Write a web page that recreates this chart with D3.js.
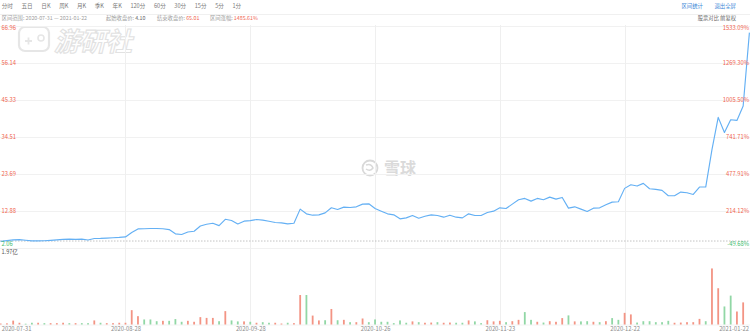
<!DOCTYPE html>
<html>
<head>
<meta charset="utf-8">
<script src="https://cdn.jsdelivr.net/npm/d3@7/dist/d3.min.js"></script>
<style>
  html, body { margin: 0; padding: 0; background: #fff; }
  svg { display: block; font-family: "Noto Sans CJK SC", "Noto Sans", sans-serif; }
</style>
</head>
<body>
<div id="chart"></div>
<script>
(function () {
  'use strict';

  // ── data (GME 日K, 2020-07-31 ~ 2021-01-22) ─────────────────────────
  var dates = [
    '2020-07-31',
    '2020-08-03', '2020-08-04', '2020-08-05', '2020-08-06', '2020-08-07', '2020-08-10', '2020-08-11',
    '2020-08-12', '2020-08-13', '2020-08-14', '2020-08-17', '2020-08-18', '2020-08-19', '2020-08-20',
    '2020-08-21', '2020-08-24', '2020-08-25', '2020-08-26', '2020-08-27', '2020-08-28', '2020-08-31',
    '2020-09-01', '2020-09-02', '2020-09-03', '2020-09-04', '2020-09-08', '2020-09-09', '2020-09-10',
    '2020-09-11', '2020-09-14', '2020-09-15', '2020-09-16', '2020-09-17', '2020-09-18', '2020-09-21',
    '2020-09-22', '2020-09-23', '2020-09-24', '2020-09-25', '2020-09-28', '2020-09-29', '2020-09-30',
    '2020-10-01', '2020-10-02', '2020-10-05', '2020-10-06', '2020-10-07', '2020-10-08', '2020-10-09',
    '2020-10-12', '2020-10-13', '2020-10-14', '2020-10-15', '2020-10-16', '2020-10-19', '2020-10-20',
    '2020-10-21', '2020-10-22', '2020-10-23', '2020-10-26', '2020-10-27', '2020-10-28', '2020-10-29',
    '2020-10-30', '2020-11-02', '2020-11-03', '2020-11-04', '2020-11-05', '2020-11-06', '2020-11-09',
    '2020-11-10', '2020-11-11', '2020-11-12', '2020-11-13', '2020-11-16', '2020-11-17', '2020-11-18',
    '2020-11-19', '2020-11-20', '2020-11-23', '2020-11-24', '2020-11-25', '2020-11-27', '2020-11-30',
    '2020-12-01', '2020-12-02', '2020-12-03', '2020-12-04', '2020-12-07', '2020-12-08', '2020-12-09',
    '2020-12-10', '2020-12-11', '2020-12-14', '2020-12-15', '2020-12-16', '2020-12-17', '2020-12-18',
    '2020-12-21', '2020-12-22', '2020-12-23', '2020-12-24', '2020-12-28', '2020-12-29', '2020-12-30',
    '2020-12-31', '2021-01-04', '2021-01-05', '2021-01-06', '2021-01-07', '2021-01-08', '2021-01-11',
    '2021-01-12', '2021-01-13', '2021-01-14', '2021-01-15', '2021-01-19', '2021-01-20', '2021-01-21',
    '2021-01-22'
  ];

  var closes = [
    4.01,
    4.20, 4.43, 4.52, 4.32, 4.15, 4.13, 4.18, 4.30, 4.45, 4.58, 4.65, 4.60, 4.66, 4.40,
    4.85, 4.87, 4.95, 5.05, 5.15, 5.30, 6.60,
    7.65, 7.70, 7.75, 7.75, 7.70, 7.45, 6.20, 6.00, 6.75, 6.95, 8.50, 9.00, 9.30, 8.60,
    10.45, 10.10, 9.10, 9.90, 10.05, 10.38, 10.19,
    9.89, 9.50, 9.40, 9.11, 9.30, 13.42, 12.05, 11.65, 11.75, 12.34, 13.81, 13.32, 14.00,
    13.91, 14.10, 14.88, 14.98, 13.61, 12.83, 12.05, 11.75, 10.58,
    10.87, 11.56, 10.77, 11.36, 11.75, 11.56, 11.07, 11.65, 11.07, 10.87, 12.05, 11.56,
    11.56, 12.44, 12.83, 13.81, 13.61, 14.88, 16.16, 16.55,
    15.77, 16.55, 16.16, 16.94, 16.35, 16.84, 13.71, 14.10, 13.42, 12.73, 13.71, 13.81,
    14.69, 15.47, 15.57, 19.49, 20.56, 20.17, 20.95, 19.39, 19.19, 18.90,
    17.33, 17.33, 18.41, 18.21, 17.72, 19.88, 19.88, 30.84, 40.24, 35.83, 39.55, 39.36, 43.57,
    65.01
  ];

  // 成交量（百万股）
  var volumes = [
    2.5,
    3, 10, 4.5, 2, 4.5, 4.5, 3.5, 3.5, 3.5, 4.5, 3.5, 3.5, 3.5, 3.5,
    10.5, 4.5, 3.5, 3.5, 4.5, 4.5, 37,
    21.5, 13, 13, 8.5, 9.5, 9.5, 14, 7, 9.5, 7, 19, 17, 17, 8.5,
    34.5, 10.5, 8, 8, 7, 4.5, 6,
    4.5, 4.5, 2.5, 4.5, 3.5, 76, 76, 23, 10.5, 11, 40, 11, 12,
    6, 6, 15.5, 6, 13, 7, 7, 3.5, 10.5,
    4.5, 8, 6, 4.5, 5, 6, 4.5, 5, 4.5, 4.5, 10.5, 8,
    3.5, 11, 8, 9.5, 6, 8.5, 12, 32,
    12, 7, 5, 8.5, 7, 16.5, 23.5, 8, 8, 8.5, 7, 6,
    8.5, 16.5, 12, 30, 26, 5, 8.5, 8.5, 6, 6,
    9.5, 4.5, 5, 6, 6, 14.5, 8.5, 144.5, 93.5, 46.5, 74.5, 33.5, 57,
    197.2
  ];

  // 1 = 收阳（红），0 = 收阴（绿）
  var volUp = [
    1,
    1, 1, 1, 0, 0, 1, 0, 1, 1, 1, 0, 1, 0, 0,
    1, 0, 1, 1, 1, 1, 1,
    1, 0, 0, 0, 1, 0, 0, 0, 1, 1, 1, 1, 1, 0,
    1, 0, 0, 1, 0, 1, 0,
    0, 1, 1, 0, 1, 1, 0, 1, 1, 0, 1, 0, 1,
    0, 1, 1, 0, 0, 0, 0, 0, 0,
    0, 1, 0, 1, 1, 0, 1, 1, 0, 0, 1, 0,
    0, 1, 1, 1, 0, 1, 1, 0,
    0, 1, 0, 1, 1, 1, 0, 1, 0, 0, 1, 0,
    1, 0, 0, 1, 1, 0, 0, 0, 0, 0,
    0, 1, 1, 1, 1, 1, 0, 1, 1, 0, 0, 1, 1,
    1
  ];

  var priceTickLabels = ['2.06', '12.88', '23.69', '34.51', '45.33', '56.14', '66.96'];
  var pctTickLabels = ['-49.68%', '214.12%', '477.91%', '741.71%', '1005.50%', '1269.30%', '1533.09%'];
  var dateTickIdx = [0, 20, 40, 60, 80, 100, 120];
  var periodTabs = ['分时', '五日', '日K', '周K', '月K', '季K', '年K', '120分', '60分', '30分', '15分', '5分', '1分'];
  var startClose = 4.10;
  var volMaxLabel = '1.97亿';

  // ── layout ─────────────────────────────────────────────────────────
  var W = 750, H = 335;
  var RED = '#f0654f', GREEN = '#3dbb6c';
  var svg = d3.select('#chart').append('svg').attr('width', W).attr('height', H);

  var x = d3.scaleLinear().domain([0, closes.length - 1]).range([0.7, 749.4]);
  var y = d3.scaleLinear().domain([+priceTickLabels[0], +priceTickLabels[priceTickLabels.length - 1]]).range([248, 26]);
  var yv = d3.scaleLinear().domain([0, d3.max(volumes)]).range([324.5, 248]);

  // watermarks (drawn as outlines so they stay behind everything)
  var wm = svg.append('g').attr('class', 'watermark');
  wm.append('rect').attr('x', 19).attr('y', 27).attr('width', 30).attr('height', 24).attr('rx', 6)
    .attr('fill', 'none').attr('stroke', '#e6e6e6').attr('stroke-width', 2.2);
  wm.append('path').attr('d', 'M25,41h7M28.5,37.5v7').attr('stroke', '#e6e6e6').attr('stroke-width', 1.8);
  wm.append('circle').attr('cx', 41).attr('cy', 38).attr('r', 3).attr('fill', 'none').attr('stroke', '#e6e6e6').attr('stroke-width', 1.6);
  wm.append('text').attr('x', 54).attr('y', 51).attr('font-size', 26).attr('font-weight', 'bold')
    .attr('font-style', 'italic').attr('fill', '#fff').attr('stroke', '#e2e2e2').attr('stroke-width', 1.1)
    .text('游研社');
  wm.append('circle').attr('cx', 370).attr('cy', 168).attr('r', 7.5).attr('fill', 'none')
    .attr('stroke', '#d9d9d9').attr('stroke-width', 1.8);
  wm.append('path').attr('d', 'M366,165 q5,-2 7,3 q-3,4 -7,1').attr('fill', 'none')
    .attr('stroke', '#d9d9d9').attr('stroke-width', 1.5);
  wm.append('text').attr('x', 384).attr('y', 168).attr('dy', '0.35em').attr('font-size', 16)
    .attr('font-weight', 'bold').attr('fill', '#dadada').text('雪球');

  // header row 1: period tabs
  var tabX = 1.7;
  periodTabs.forEach(function (t) {
    var node = svg.append('text').attr('x', tabX).attr('y', 6.5).attr('dy', '0.35em')
      .attr('font-size', 5.6).attr('fill', '#7a7a7a').text(t);
    tabX += node.node().getComputedTextLength() + 8.6;
  });
  [['区间统计', 703], ['退出全屏', 736]].forEach(function (d) {
    svg.append('text').attr('x', d[1]).attr('y', 6.5).attr('dy', '0.35em').attr('text-anchor', 'end')
      .attr('font-size', 5.4).attr('fill', '#3f8ad8').text(d[0]);
  });
  svg.append('line').attr('x1', 0).attr('x2', W).attr('y1', 14.5).attr('y2', 14.5)
    .attr('stroke', '#f0f0f0').attr('stroke-width', 1);

  // header row 2: interval stats
  var lastClose = closes[closes.length - 1];
  var stats = [
    { x: 1.7, label: '区间范围: ', value: dates[0] + ' — ' + dates[dates.length - 1], color: '#a0a0a0' },
    { x: 106, label: '起始收盘价: ', value: startClose.toFixed(2), color: '#666' },
    { x: 157, label: '结束收盘价: ', value: lastClose.toFixed(2), color: RED },
    { x: 210, label: '区间涨幅: ', value: ((lastClose / startClose - 1) * 100).toFixed(2) + '%', color: RED }
  ];
  stats.forEach(function (s) {
    var t = svg.append('text').attr('x', s.x).attr('y', 18.5).attr('dy', '0.35em').attr('font-size', 5.3);
    t.append('tspan').attr('fill', '#9a9a9a').text(s.label);
    t.append('tspan').attr('fill', s.color).text(s.value);
  });
  svg.append('text').attr('x', 736).attr('y', 18.5).attr('dy', '0.35em').attr('text-anchor', 'end')
    .attr('font-size', 5.3).attr('fill', '#666').text('股票对比  前复权');

  // grid
  var grid = svg.append('g').attr('class', 'grid');
  grid.selectAll('line.h').data(priceTickLabels).enter().append('line').attr('class', 'h')
    .attr('x1', 0).attr('x2', W)
    .attr('y1', function (d) { return Math.round(y(+d)) + 0.5; })
    .attr('y2', function (d) { return Math.round(y(+d)) + 0.5; })
    .attr('stroke', '#f1f1f1');
  grid.selectAll('line.v').data(dateTickIdx.slice(1, -1)).enter().append('line').attr('class', 'v')
    .attr('x1', function (d) { return Math.round(x(d)) + 0.5; })
    .attr('x2', function (d) { return Math.round(x(d)) + 0.5; })
    .attr('y1', 25).attr('y2', 325)
    .attr('stroke', '#efefef');
  grid.append('line').attr('x1', 0).attr('x2', W).attr('y1', 325).attr('y2', 325).attr('stroke', '#f3f3f3');

  // start-close reference (dashed)
  svg.append('line').attr('x1', 0).attr('x2', W)
    .attr('y1', y(startClose)).attr('y2', y(startClose))
    .attr('stroke', '#b5b5b5').attr('stroke-width', 0.8).attr('stroke-dasharray', '1.5,1.5');

  // volume bars
  svg.append('clipPath').attr('id', 'volClip').append('rect')
    .attr('x', 0).attr('y', 240).attr('width', 748).attr('height', 90);
  svg.append('g').attr('clip-path', 'url(#volClip)')
    .selectAll('rect').data(volumes).enter().append('rect')
    .attr('x', function (d, i) { return x(i) - 0.9; })
    .attr('y', function (d) { return yv(d); })
    .attr('width', 1.8)
    .attr('height', function (d) { return yv(0) - yv(d); })
    .attr('fill', function (d, i) { return volUp[i] ? '#f39484' : '#91d7a5'; });

  // price line
  var line = d3.line()
    .x(function (d, i) { return x(i); })
    .y(function (d) { return y(d); });
  svg.append('path').datum(closes).attr('d', line)
    .attr('fill', 'none').attr('stroke', '#64b0f4').attr('stroke-width', 1.15)
    .attr('stroke-linejoin', 'round');

  // price & percent labels
  var last = priceTickLabels.length - 1;
  function labelY(d, i) {
    var yy = y(+d);
    if (i === 0) return yy - 4;
    if (i === last) return yy + 1.8;
    return yy;
  }
  svg.append('g').selectAll('text').data(priceTickLabels).enter().append('text')
    .attr('x', 1.5).attr('y', labelY).attr('dy', '0.35em').attr('font-size', 5.8)
    .attr('fill', function (d, i) { return i === 0 ? GREEN : RED; })
    .text(function (d) { return d; });
  svg.append('g').selectAll('text').data(pctTickLabels).enter().append('text')
    .attr('x', 749).attr('y', function (d, i) { return labelY(priceTickLabels[i], i); })
    .attr('dy', '0.35em').attr('text-anchor', 'end').attr('font-size', 5.8)
    .attr('fill', function (d, i) { return i === 0 ? GREEN : RED; })
    .text(function (d) { return d; });

  svg.append('text').attr('x', 1.5).attr('y', 252.5).attr('dy', '0.35em').attr('font-size', 5.6)
    .attr('fill', '#555').text(volMaxLabel);

  // date axis
  var xAxis = d3.axisBottom(x).tickValues(dateTickIdx).tickSize(0).tickPadding(1.5)
    .tickFormat(function (i) { return dates[i]; });
  var ax = svg.append('g').attr('transform', 'translate(0,325)').call(xAxis);
  ax.select('.domain').remove();
  ax.selectAll('text').attr('font-size', 5.8).attr('fill', '#8a8a8a')
    .attr('font-family', '"Noto Sans CJK SC", "Noto Sans", sans-serif')
    .attr('text-anchor', function (d, i) { return i === 0 ? 'start' : (i === dateTickIdx.length - 1 ? 'end' : 'middle'); })
    .attr('dx', function (d, i) { return i === 0 ? 0.5 : (i === dateTickIdx.length - 1 ? -1 : 0); });
})();
</script>
</body>
</html>
